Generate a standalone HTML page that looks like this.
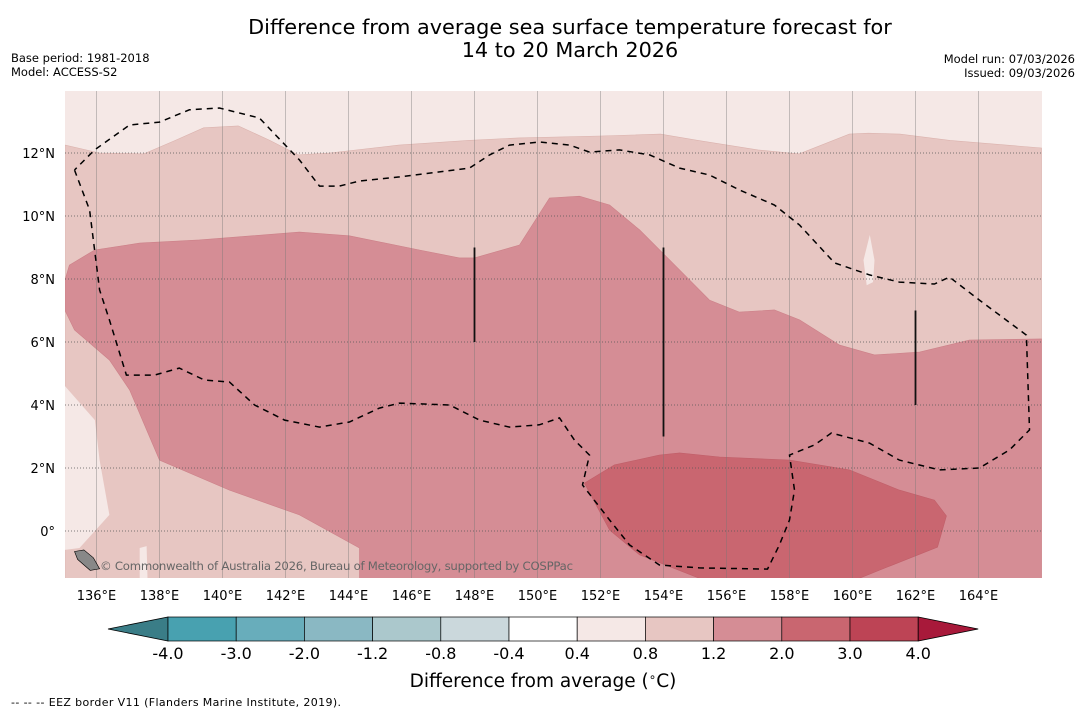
<!DOCTYPE html>
<html><head><meta charset="utf-8">
<style>
html,body{margin:0;padding:0;background:#fff;}
body{width:1085px;height:713px;overflow:hidden;font-family:"Liberation Sans","DejaVu Sans",sans-serif;}
svg text{font-family:"DejaVu Sans","Liberation Sans",sans-serif;}
</style></head>
<body>
<svg id="chart" width="1085" height="713" viewBox="0 0 1085 713" xmlns="http://www.w3.org/2000/svg">
<text x="570" y="34" font-size="20.8" text-anchor="middle" fill="#000">Difference from average sea surface temperature forecast for</text>
<text x="570" y="57" font-size="20.8" text-anchor="middle" fill="#000">14 to 20 March 2026</text>
<text x="11" y="62" font-size="11.5">Base period: 1981-2018</text>
<text x="11" y="76" font-size="11.5">Model: ACCESS-S2</text>
<text x="1075" y="63" font-size="11.5" text-anchor="end">Model run: 07/03/2026</text>
<text x="1075" y="77" font-size="11.5" text-anchor="end">Issued: 09/03/2026</text>
<defs><clipPath id="mapclip"><rect x="65" y="91" width="977" height="487"/></clipPath></defs>
<g id="map" clip-path="url(#mapclip)"></g>
<g id="axes"></g>
<g id="cbar"></g>
<text x="543" y="687" font-size="18.5" text-anchor="middle">Difference from average (<tspan font-size="12" dy="-6">∘</tspan><tspan dy="6">C)</tspan></text>
<text x="11" y="706" font-size="11" textLength="330">--  --  -- EEZ border V11 (Flanders Marine Institute, 2019).</text>
</svg>
<script>
// ---- data ----
const lonTicks = [136,138,140,142,144,146,148,150,152,154,156,158,160,162,164];
const latTicks = [0,2,4,6,8,10,12];
const cbarLevels = ["-4.0","-3.0","-2.0","-1.2","-0.8","-0.4","0.4","0.8","1.2","2.0","3.0","4.0"];
const cbarColors = ["#48a1b0","#68adbb","#8ab8c3","#abc8cc","#cbd8dc","#ffffff","#f5e8e6","#e7c6c2","#d58d95","#c96670","#bd4455"];
// contour band 0.8-1.2 (lon,lat)
const band08Lon = [135.0,136.1,137.5,138.5,139.4,140.5,141.5,142.4,143.4,145.6,147.8,149.4,152.0,153.9,155.1,157.0,158.3,159.9,160.5,161.5,163.1,166.0,166.0,135.0];
const band08Lat = [12.25,12.0,11.97,12.4,12.8,12.86,12.4,11.94,12.0,12.25,12.4,12.48,12.54,12.6,12.4,12.1,11.97,12.6,12.63,12.6,12.4,12.16,-1.5,-1.5];
// light region bottom-left (0.4-0.8)
const lightLon = [135.0,135.95,136.1,136.41,135.46,135.0];
const lightLat = [4.6,3.52,2.25,0.51,-0.54,-0.6];
const spikeLon = [137.37,137.37,137.59,137.62];
const spikeLat = [-1.5,-0.54,-0.48,-1.5];
// band 1.2-2.0
const band12Lon = [135.14,135.94,137.37,139.27,142.44,144.03,146.25,147.52,148.0,149.43,150.38,151.33,152.29,153.24,154.51,155.46,156.41,157.52,158.32,159.59,160.7,162.13,163.71,166.0,166.0,144.35,144.35,142.44,140.22,138.0,137.52,137.05,136.41,135.3,135.0,135.0];
const band12Lat = [8.44,8.92,9.14,9.24,9.49,9.37,8.92,8.67,8.67,9.08,10.57,10.63,10.35,9.56,8.29,7.33,6.95,7.02,6.7,5.9,5.59,5.68,6.06,6.1,-1.5,-1.5,-0.54,0.51,1.3,2.25,3.37,4.48,5.43,6.38,7.0,7.97];
// band 2.0-3.0
const band20Lon = [151.49,152.44,153.87,154.51,155.78,158.0,159.9,161.49,162.6,162.98,162.7,160.86,160.22,155.14,153.24,152.29];
const band20Lat = [1.52,2.1,2.41,2.48,2.35,2.25,1.94,1.3,0.98,0.48,-0.51,-1.24,-1.5,-1.5,-0.76,0.03];
// EEZ border
const eezLon = [135.30,135.78,136.10,136.41,136.95,137.84,138.63,139.43,140.22,141.02,141.97,143.08,144.03,144.98,145.62,147.21,148.16,149.11,150.06,150.70,151.17,151.65,151.43,152.29,152.92,153.87,155.14,157.30,157.68,158.0,158.16,158.0,158.79,159.33,160.54,161.49,162.76,164.03,164.98,165.62,165.52,164.03,163.08,162.60,161.49,160.54,159.43,158.32,157.52,156.41,155.46,154.51,153.56,152.60,151.65,151.02,150.06,149.11,148.48,147.84,146.89,145.62,144.35,143.71,143.08,142.44,141.17,139.90,138.95,138.0,137.05,135.94,135.30];
const eezLat = [11.46,10.19,7.65,6.70,4.95,4.95,5.17,4.79,4.73,4.0,3.52,3.30,3.46,3.90,4.06,4.0,3.52,3.30,3.37,3.59,2.89,2.41,1.46,0.35,-0.44,-1.08,-1.17,-1.21,-0.44,0.35,1.30,2.41,2.73,3.11,2.79,2.25,1.94,2.0,2.57,3.21,6.22,7.33,8.06,7.84,7.90,8.13,8.51,9.71,10.35,10.83,11.30,11.52,11.94,12.10,12.03,12.25,12.35,12.25,11.94,11.52,11.40,11.24,11.11,10.95,10.95,11.78,13.11,13.43,13.37,12.98,12.89,12.10,11.46];
// vertical black lines (lon, lat1, lat2)
const vLinesLon = [148,154,162];
const vLinesLat1 = [6,3,4];
const vLinesLat2 = [9,9,7];

// ---- axes functions ----
const X = lon => 96.5 + (lon-136)*31.5;
const Y = lat => 531 - lat*31.5;
const NS = 'http://www.w3.org/2000/svg';
function mk(tag, attrs, parent){const e=document.createElementNS(NS,tag);for(const k in attrs)e.setAttribute(k,attrs[k]);parent.appendChild(e);return e;}
function pts(lons,lats){return lons.map((l,i)=>X(l).toFixed(1)+','+Y(lats[i]).toFixed(1)).join(' ');}

const map=document.getElementById('map');
const bg=mk('rect',{x:65,y:91,width:977,height:487,fill:'#f5e8e6'},map);


const b1=mk('polygon',{points:pts(band08Lon,band08Lat),fill:'#e7c6c2',stroke:'#dbb3ae','stroke-width':0.6},map);


const lr=mk('polygon',{points:pts(lightLon,lightLat),fill:'#f5e8e6'},map);


const sp=mk('polygon',{points:pts(spikeLon,spikeLat),fill:'#f5e8e6'},map);


const b2=mk('polygon',{points:pts(band12Lon,band12Lat),fill:'#d58d95',stroke:'#cc8088','stroke-width':0.6},map);


const b3=mk('polygon',{points:pts(band20Lon,band20Lat),fill:'#c96670',stroke:'#c05f69','stroke-width':0.6},map);


const sl=mk('polygon',{points:pts([160.55,160.7,160.65,160.45,160.35],[9.4,8.6,7.9,7.8,8.6]),fill:'#f5e8e6'},map);


lonTicks.forEach(l=>{const g=mk('line',{x1:X(l),x2:X(l),y1:91,y2:578,stroke:'#777','stroke-width':0.5,opacity:0.8},map);

});
latTicks.forEach(l=>{const g=mk('line',{x1:65,x2:1042,y1:Y(l),y2:Y(l),stroke:'#555','stroke-width':0.7,'stroke-dasharray':'1,2'},map);

});
const ez=mk('polyline',{points:pts(eezLon,eezLat),fill:'none',stroke:'#000','stroke-width':1.5,'stroke-dasharray':'6,5'},map);


vLinesLon.forEach((l,i)=>{const v=mk('line',{x1:X(l),x2:X(l),y1:Y(vLinesLat1[i]),y2:Y(vLinesLat2[i]),stroke:'#111','stroke-width':1.8},map);

});
const isl=mk('polygon',{points:pts([135.3,135.6,135.9,136.1,135.8,135.4],[-0.65,-0.6,-0.85,-1.2,-1.25,-0.9]),fill:'#888',stroke:'#000','stroke-width':0.6},map);


const cr=mk('text',{x:100,y:570,'font-size':11.7,fill:'#666',textLength:473},map);
cr.textContent='© Commonwealth of Australia 2026, Bureau of Meteorology, supported by COSPPac';



const ax=document.getElementById('axes');
lonTicks.forEach(l=>{const t=mk('text',{x:X(l),y:600,'font-size':13,'text-anchor':'middle'},ax);t.textContent=l+'°E';

});
latTicks.forEach(l=>{const t=mk('text',{x:55,y:Y(l)+5,'font-size':13,'text-anchor':'end'},ax);t.textContent=l===0?'0°':l+'°N';

});

const cb=document.getElementById('cbar');
const cx0=168, cw=68.2, cy=617, ch=24;
const lt=mk('polygon',{points:`108,${cy+ch/2} ${cx0},${cy} ${cx0},${cy+ch}`,fill:'#3a7d87',stroke:'#000','stroke-width':0.8},cb);


cbarColors.forEach((c,i)=>{const r=mk('rect',{x:cx0+i*cw,y:cy,width:cw,height:ch,fill:c,stroke:'#000','stroke-width':0.7},cb);

});
const xe=cx0+cbarColors.length*cw;
const rt=mk('polygon',{points:`${xe},${cy} ${xe+60},${cy+ch/2} ${xe},${cy+ch}`,fill:'#a8193a',stroke:'#000','stroke-width':0.8},cb);


cbarLevels.forEach((s,i)=>{if(i>cbarColors.length)return;const t=mk('text',{x:cx0+i*cw,y:659,'font-size':16,'text-anchor':'middle'},cb);t.textContent=s;

});
</script>
</body></html>
